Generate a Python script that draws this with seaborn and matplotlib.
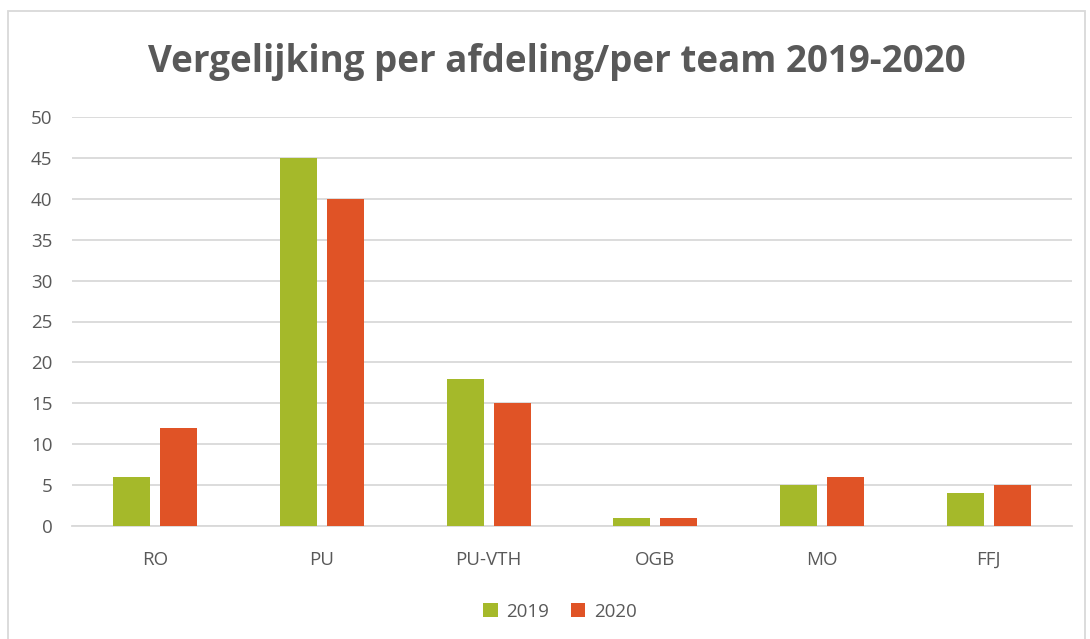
import pandas as pd
import matplotlib
matplotlib.use("Agg")
import matplotlib.pyplot as plt
import seaborn as sns
from matplotlib.patches import Rectangle

# data
afdelingen = ["RO", "PU", "PU-VTH", "OGB", "MO", "FFJ"]
jaar_2019 = [6, 45, 18, 1, 5, 4]
jaar_2020 = [12, 40, 15, 1, 6, 5]

df = pd.DataFrame({
    "Afdeling": afdelingen * 2,
    "Jaar": ["2019"] * len(afdelingen) + ["2020"] * len(afdelingen),
    "Aantal": jaar_2019 + jaar_2020,
})

sns.set_style("white")
plt.rcParams["font.family"] = ["Open Sans", "DejaVu Sans"]

grijs = "#595959"
fig = plt.figure(figsize=(10.9, 6.39), dpi=100)
ax = fig.add_axes([72 / 1090, 1 - 526 / 639, 1000 / 1090, 409 / 639])

sns.barplot(
    data=df, x="Afdeling", y="Aantal", hue="Jaar",
    palette=["#A5B92A", "#E05326"], width=0.564, gap=0.213,
    saturation=1, linewidth=0, ax=ax, zorder=3,
)

ax.set_ylim(0, 50)
ax.set_yticks(range(0, 51, 5))
ax.set_xlim(-0.5, 5.5)
ax.yaxis.grid(True, color="#D9D9D9", linewidth=1.3, zorder=0)
ax.set_axisbelow(True)
for s in ["top", "right", "left"]:
    ax.spines[s].set_visible(False)
ax.spines["bottom"].set_color("#D9D9D9")
ax.spines["bottom"].set_linewidth(1.3)
ax.tick_params(axis="both", length=0, labelsize=13.5, labelcolor=grijs)
ax.tick_params(axis="y", pad=14)
ax.tick_params(axis="x", pad=18)
ax.set_xlabel("")
ax.set_ylabel("")

ax.legend(
    loc="center", bbox_to_anchor=(0.488, -0.21), ncol=2, frameon=False,
    fontsize=13.5, labelcolor=grijs, handlelength=0.75, handleheight=0.75,
    columnspacing=1.2, handletextpad=0.45,
)

fig.text(0.511, 1 - 62 / 639, "Vergelijking per afdeling/per team 2019-2020",
         ha="center", va="center", fontsize=26.5, fontweight="bold", color=grijs)

# kader rond de grafiek
fig.patches.append(Rectangle((8 / 1090, -0.01), 1 - 13 / 1090, 1 - 11 / 639 + 0.01,
                             transform=fig.transFigure, fill=False,
                             edgecolor="#D9D9D9", linewidth=1.3))

fig.savefig("out.png", dpi=100, facecolor="white")
